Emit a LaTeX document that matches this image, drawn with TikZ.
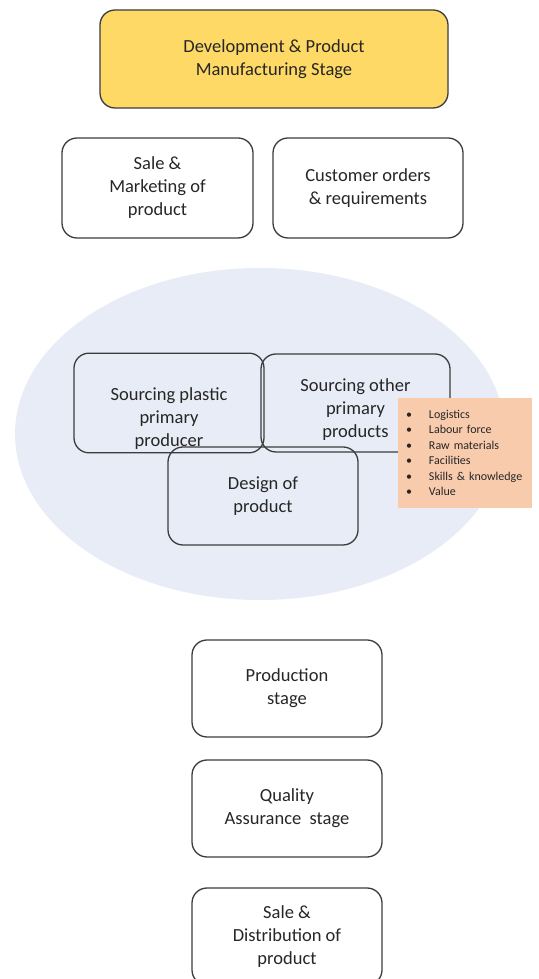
\documentclass[tikz,border=0pt]{standalone}
\usepackage{fontspec}
\setmainfont{Carlito}
\usetikzlibrary{positioning}
\definecolor{stagegold}{HTML}{FFD966}
\definecolor{hubblue}{HTML}{E8ECF6}
\definecolor{notepeach}{HTML}{F8CBAD}
\definecolor{edgegrey}{HTML}{3C3C3C}
\definecolor{inkgrey}{HTML}{262626}
\begin{document}
\begin{tikzpicture}[x=1pt, y=1pt, node distance=120pt]
    \tikzset{
    block/.style={
        rectangle,
        draw=edgegrey,
        line width=1.3pt,
        rounded corners=15pt,
        minimum width=190pt,
        minimum height=98pt,
        align=center,
        text=inkgrey,
        font=\fontsize{18.5}{23}\selectfont
    },
    note/.style={
        rectangle,
        fill=notepeach,
        text width=118pt,
        inner xsep=8pt,
        minimum height=110pt,
        align=left,
        text=inkgrey,
        font=\fontsize{12}{15.4}\selectfont
    }
}
    \useasboundingbox (0,0) rectangle (538,979);

    % Sourcing hub
    \fill[hubblue] (260,545) ellipse (245 and 166);

    \node[block, fill=stagegold, minimum width=348pt] (dev) at (274,920) {Development \& Product\\Manufacturing Stage};
    \node[block, minimum width=191pt, minimum height=100pt] (salemkt) at (157.5,791) {Sale \&\\Marketing of\\product};
    \node[block, minimum height=100pt] (orders) at (368,791) {Customer orders\\\& requirements};

    \node[block] (plastic) at (169,576) {\rule{0pt}{44pt}Sourcing plastic\\primary\\producer};
    \node[block, minimum width=189pt] (other) at (355.5,576) {\rule{0pt}{26pt}Sourcing other\\primary\\products};
    \node[block] (design) at (263,483) {Design of\\product};
    \node[note] (factors) at (465,526) {%
        \makebox[23pt][l]{\textbullet}Logistics\\
        \makebox[23pt][l]{\textbullet}Labour force\\
        \makebox[23pt][l]{\textbullet}Raw materials\\
        \makebox[23pt][l]{\textbullet}Facilities\\
        \makebox[23pt][l]{\textbullet}Skills \& knowledge\\
        \makebox[23pt][l]{\textbullet}Value};

    % Stages
    \node[block, minimum height=97pt] (prod) at (287,290.5) {Production\\stage};
    \node[block, minimum height=97pt, below of=prod] (qa) {Quality\\Assurance~ stage};
    \node[block, minimum height=97pt, below of=qa, yshift=-8pt] (dist) {Sale \&\\Distribution of\\product};
\end{tikzpicture}
\end{document}
